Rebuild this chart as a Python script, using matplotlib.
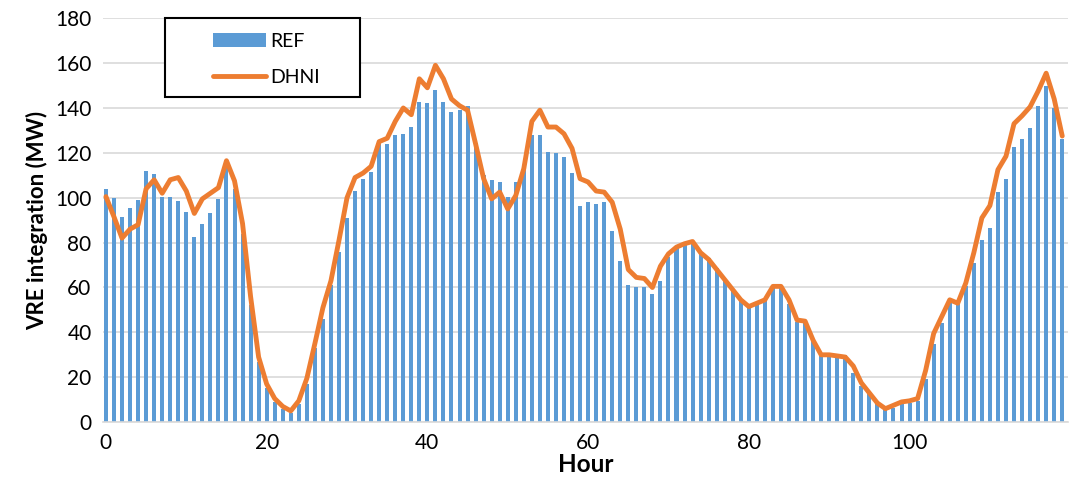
import numpy as np
import matplotlib.pyplot as plt
from matplotlib.patches import Rectangle

# hourly values
hours = list(range(120))

ref = [104, 100, 91.5, 95.5, 99, 112, 110.5, 100.5, 100.5, 98.5,
       93.5, 82.5, 88.5, 93, 99.5, 115, 104, 84, 52, 27,
       15, 9, 6, 4, 8, 17, 33, 46, 61, 76,
       91, 103, 108.5, 111.5, 124, 124, 128, 128.5, 131.5, 142.5,
       142, 148, 142.5, 138, 139, 141, 124.5, 110, 108, 107,
       100.5, 107, 113, 128, 128, 120.5, 120, 118, 111, 96.5,
       98, 97, 98, 85, 72, 61, 60, 60, 57, 63,
       73.5, 78.5, 79.5, 80, 76, 73, 68.5, 63, 58.5, 55,
       52.5, 53.5, 55.5, 60, 60, 52.5, 44.5, 44.5, 37, 29.5,
       30, 30, 30, 22, 16, 12.5, 8.5, 5.5, 6.5, 8,
       8.5, 9.5, 19, 35, 44, 53, 52.5, 60.5, 71, 81,
       86.5, 102.5, 108.5, 122.5, 126, 131, 141, 150, 140, 126]

dhni = [100.5, 91.5, 82, 86, 88, 104, 108, 102, 108, 109,
        103, 93, 99.5, 102, 104.5, 116.5, 107.5, 88.5, 56, 29,
        17, 10.5, 7, 5, 9.5, 19.5, 35, 51, 63, 81,
        100, 109, 111, 114, 125, 126.5, 134, 140, 137, 153,
        149, 159, 153, 144, 141, 139, 124, 108.5, 99.5, 102.5,
        95, 101, 113, 134, 139, 131.5, 131.5, 128.5, 122, 108.5,
        107, 103, 102.5, 98, 86, 68, 64.5, 64, 60, 69.5,
        75, 78, 79.5, 80.5, 75.5, 72.5, 68, 63.5, 59, 54.5,
        51.5, 53, 54.5, 60.5, 60.5, 54.5, 45.5, 45, 36.5, 30,
        30, 29.5, 29, 25, 17.5, 13, 8.5, 6, 7.5, 9,
        9.5, 10.5, 23, 39.5, 47, 54.5, 53, 62, 75.5, 91,
        96.5, 112.5, 118.5, 133, 136.5, 140.5, 147.5, 155.5, 144, 127.5]

plt.rcParams['font.family'] = ['Lato', 'DejaVu Sans']

fig = plt.figure(figsize=(10.7, 4.92), dpi=100)
ax = fig.add_axes([0.096, 0.142, 0.902, 0.821])

bars = ax.bar(hours, ref, width=0.5, color='#5B9BD5', label='REF', zorder=2)
line, = ax.plot(hours, dhni, color='#ED7D31', linewidth=3.5, label='DHNI',
                solid_joinstyle='round', solid_capstyle='round', zorder=3)

ax.set_xlim(-0.4, 119.7)
ax.set_ylim(0, 180)
ax.set_xticks(range(0, 101, 20))
ax.set_yticks(range(0, 181, 20))
ax.tick_params(length=0, labelsize=15, pad=8)
ax.grid(axis='y', color='#D9D9D9', linewidth=1.2, zorder=0)
for s in ['top', 'right', 'left']:
    ax.spines[s].set_visible(False)
ax.spines['bottom'].set_color('#D9D9D9')
ax.spines['bottom'].set_linewidth(1.2)

ax.set_xlabel('Hour', fontsize=17.5, fontweight='bold', labelpad=0)
ax.set_ylabel('VRE integration (MW)', fontsize=16, fontweight='bold', labelpad=5)

# legend box drawn separately so it can be wider than its contents
ax.add_patch(Rectangle((0.0646, 0.804), 0.202, 0.196, transform=ax.transAxes,
                       facecolor='white', edgecolor='black', linewidth=1.5,
                       zorder=4, clip_on=False))
leg = ax.legend([bars, line], ['REF', 'DHNI'], loc='center left',
                bbox_to_anchor=(0.1143, 0.898), frameon=False,
                fontsize=14, borderaxespad=0, borderpad=0,
                handlelength=2.7, handleheight=0.75,
                labelspacing=1.0, handletextpad=0.25)
leg.set_zorder(5)

fig.savefig('out.png', dpi=100)
